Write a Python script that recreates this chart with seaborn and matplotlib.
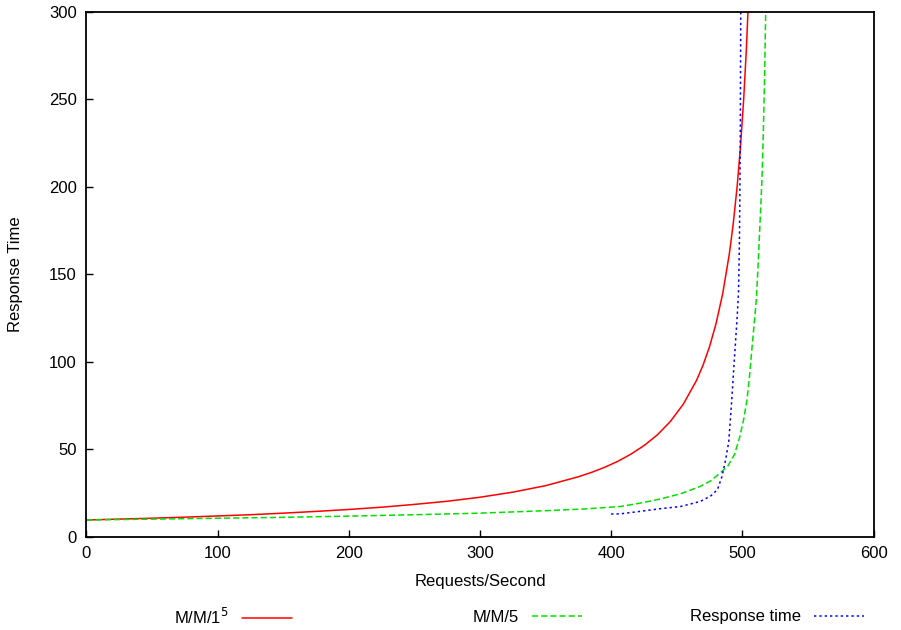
import numpy as np
import pandas as pd
import matplotlib
matplotlib.use("Agg")
import matplotlib.pyplot as plt
import seaborn as sns

# values
mm1_x = [0, 25, 50, 75, 100, 125, 150, 175, 200, 225, 250, 275, 300, 325, 350, 375,
         385, 395, 405, 415, 425, 435, 445, 455, 465, 470, 475, 480, 485, 490, 493,
         496, 498.5, 501, 503, 505]
mm1_y = [9.6, 10.1, 10.6, 11.2, 11.9, 12.6, 13.5, 14.5, 15.6, 16.9, 18.5, 20.3, 22.6,
         25.5, 29.2, 34.3, 36.8, 39.7, 43.1, 47.2, 52.1, 58.1, 65.8, 75.8, 89.3, 98.0,
         108.7, 122.0, 138.9, 161.3, 178.6, 200.0, 222.2, 250.0, 277.8, 312.5]

mm5_x = [0, 50, 100, 150, 200, 250, 300, 350, 380, 407, 422, 437, 453, 468, 476, 483,
         489, 494, 498, 501, 503.5, 505.5, 507, 508.8, 510.6, 511.8, 513.5, 515, 516,
         517, 517.8]
mm5_y = [9.6, 10.1, 10.6, 11.1, 11.8, 12.6, 13.5, 14.9, 15.9, 17.3, 19.2, 21.5, 24.6,
         28.8, 32.0, 36.4, 40.5, 47.0, 57.0, 67.0, 78.0, 92.0, 105.0, 120.0, 135.0,
         152.0, 180.0, 205.0, 231.0, 265.0, 300.0]

resp_x = [400, 407, 422, 437, 453, 468, 476, 481, 484.5, 486.1, 487.5, 488.6, 489.6,
          491.9, 494.4, 496.0, 497.1, 497.8, 498.4, 498.8]
resp_y = [13.0, 13.1, 14.5, 16.0, 17.3, 20.2, 23.4, 26.9, 34.5, 40.0, 45.0, 50.0, 54.0,
          78.0, 107.0, 125.0, 140.0, 170.0, 223.0, 300.0]

sns.set_style("ticks")
plt.rcParams['font.family'] = ['Liberation Sans', 'DejaVu Sans']
plt.rcParams['font.size'] = 12
plt.rcParams['text.color'] = 'black'
plt.rcParams['axes.labelcolor'] = 'black'
plt.rcParams['xtick.color'] = 'black'
plt.rcParams['ytick.color'] = 'black'
plt.rcParams['axes.edgecolor'] = 'black'

fig = plt.figure(figsize=(9.01, 6.30), dpi=100)
ax = fig.add_axes([0.096, 0.148, 0.8735, 0.833])

sns.lineplot(x=mm1_x, y=mm1_y, ax=ax, color='#ff0000', lw=1.1, sort=False)
sns.lineplot(x=mm5_x, y=mm5_y, ax=ax, color='#00e000', lw=1.1, sort=False)
sns.lineplot(x=resp_x, y=resp_y, ax=ax, color='#0000ff', lw=1.1, sort=False)
lines = ax.get_lines()
lines[1].set_dashes([4, 2])
lines[2].set_dashes([1.5, 2])

ax.set_xlim(0, 600)
ax.set_ylim(0, 300)
ax.set_xticks(range(0, 601, 100))
ax.set_yticks(range(0, 301, 50))
ax.tick_params(direction='in', length=5, width=1, labelsize=12, pad=7)
for s in ax.spines.values():
    s.set_linewidth(1.3)
    s.set_visible(True)
ax.set_xlabel("Requests/Second", fontsize=12, labelpad=9)
ax.set_ylabel("Response Time", fontsize=12, labelpad=19)

labels = ["M/M/1$^5$", "M/M/5", "Response time"]
rights = [292, 582, 864]
for ln, lab, r in zip(lines, labels, rights):
    fig.legend(handles=[ln], labels=[lab], loc='center right',
               bbox_to_anchor=(r / 901, 1 - 617 / 630), markerfirst=False,
               frameon=False, handlelength=3.0, handletextpad=0.8,
               borderaxespad=0, borderpad=0, fontsize=12)

fig.savefig("out.png", dpi=100)
